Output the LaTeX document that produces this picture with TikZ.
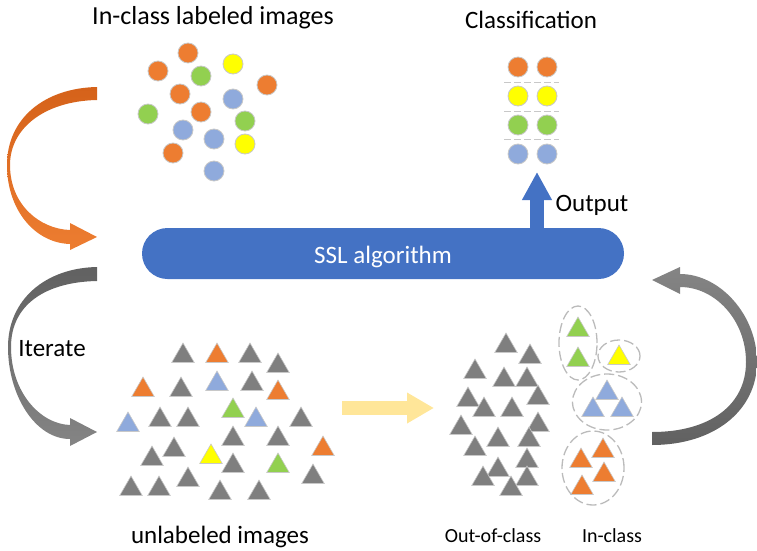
\documentclass[tikz,border=0pt]{standalone}
\usepackage{fontspec}
\setmainfont{Carlito}
\usetikzlibrary{arrows.meta}
\usetikzlibrary{shapes.geometric}
\usetikzlibrary{calc}

\definecolor{corange}{HTML}{ED7D31}
\definecolor{cdorange}{HTML}{D5621A}
\definecolor{cyellow}{HTML}{FFFF00}
\definecolor{cgreen}{HTML}{92D050}
\definecolor{cblue}{HTML}{8FAADC}
\definecolor{cgray}{HTML}{7F7F7F}
\definecolor{sslblue}{HTML}{4472C4}
\definecolor{pale}{HTML}{FFE699}
\definecolor{rim}{HTML}{C8C8C8}
\definecolor{dashrim}{HTML}{BBBBBB}

\begin{document}
\begin{tikzpicture}[x=1pt,y=-1pt,
    lbl/.style={font=\fontsize{25}{30}\selectfont,inner sep=0pt,anchor=base},
    small/.style={font=\fontsize{20}{24}\selectfont,inner sep=0pt,anchor=base},
    dot/.style={circle,minimum size=20pt,inner sep=0pt,draw=rim,line width=0.8pt},
    tri/.style={regular polygon,regular polygon sides=3,minimum size=26pt,
      inner sep=0pt,draw=rim,line width=0.6pt,yshift=-3pt},
    group/.style={ellipse,draw=dashrim,line width=1.3pt,dash pattern=on 10pt off 4pt}]
  \useasboundingbox (0,0) rectangle (757,551);

  % titles
  \node [lbl,font=\fontsize{26}{30}\selectfont] (t_in) at (213,25) {In-class labeled images};
  \node [lbl] (t_cls)   at (531,29)  {Classification};
  \node [lbl] (t_iter)  at (52,356)  {Iterate};
  \node [lbl] (t_unl)   at (220,543) {unlabeled images};
  \node [small] (t_out) at (493,542) {Out-of-class};
  \node [small] (t_inc) at (612,542) {In-class};

  % labeled images
  \foreach \x/\y/\c [count=\i] in {188/53/corange, 158/71/corange, 201/76/cgreen,
      233/64/cyellow, 267/85/corange, 180/94/corange, 233/99/cblue, 148/114/cgreen,
      201/112/corange, 245/121/cgreen, 183/130/cblue, 214/139/cblue,
      245/144/cyellow, 173/153/corange, 214/171/cblue}
    \node [dot,fill=\c] (lab\i) at (\x,\y) {};

  % classification
  \foreach \c [count=\i] in {corange,cyellow,cgreen,cblue} {
    \node [dot,fill=\c] (cl\i a) at (518,38+29*\i) {};
    \node [dot,fill=\c] (cl\i b) at (547,38+29*\i) {};
  }
  \foreach \y in {82,111,139}
    \draw [rim,line width=1pt,dash pattern=on 7pt off 3pt] (504,\y) -- (559,\y);

  % SSL bar and output
  \node [fill=sslblue,rounded corners=25.5pt,minimum width=482pt,minimum height=51pt,
    text=white,font=\fontsize{25}{30}\selectfont] (ssl) at (383,253.5) {};
  \node [lbl,text=white] (t_ssl) at (383,263) {SSL algorithm};
  \coordinate (out) at (537,172);
  \draw [sslblue,line width=14pt,-{Triangle[width=28pt,length=28pt]}]
    (ssl.north -| out) -- (out);
  \node [lbl] (t_output) at (592,211) {Output};

  % unlabeled images
  \foreach \x/\y/\c [count=\i] in {183/353/cgray, 217/353/corange, 250/353/cgray,
      278/363/cgray, 143/387/corange, 181/387/cgray, 217/381/cblue, 252/381/cgray,
      278/390/corange, 233/408/cgreen, 128/422/cblue, 160/417/cgray, 188/417/cgray,
      256/417/cblue, 301/417/cgray, 233/436/cgray, 278/436/cgray, 323/446/corange,
      174/447/cgray, 152/456/cgray, 211/454/cyellow, 233/463/cgray, 278/463/cgreen,
      313/474/cgray, 188/477/cgray, 131/486/cgray, 159/486/cgray, 220/490/cgray,
      259/490/cgray}
    \node [tri,fill=\c] (u\i) at (\x,\y) {};

  % separated images
  \foreach \x/\y [count=\i] in {506/343, 530/354, 475/369, 504/377, 527/377,
      538/395, 468/397, 484/407, 512/407, 461/425, 538/422, 498/437, 529/437,
      475/446, 527/458, 498/467, 483/476, 527/476, 511/486}
    \node [tri,fill=cgray] (o\i) at (\x,\y) {};
  \foreach \x/\y/\c [count=\i] in {578/327/cgreen, 578/357/cgreen, 619/355/cyellow,
      607/390/cblue, 593/407/cblue, 622/407/cblue, 603/448/corange, 581/458/corange,
      604/472/corange, 582/485/corange}
    \node [tri,fill=\c] (s\i) at (\x,\y) {};
  \node [group,minimum width=38pt,minimum height=74pt] (g_green)  at (578,343) {};
  \node [group,minimum width=42pt,minimum height=32pt] (g_yellow) at (619,356) {};
  \node [group,minimum width=69pt,minimum height=56pt] (g_blue)   at (607,402) {};
  \node [group,minimum width=62pt,minimum height=74pt] (g_orange) at (593,468) {};

  % filter arrow
  \coordinate (f_a) at (342,408);
  \coordinate (f_b) at (434,408);
  \draw [pale,line width=14pt,-{Triangle[width=29pt,length=27pt]}] (f_a) -- (f_b);

  % curved arrows
  \shade [top color=cdorange,bottom color=corange]
    (97,87) .. controls (45,88) and (7,118) .. (7,165)
    .. controls (7,210) and (35,243) .. (70,244) -- (70,250) -- (97,237)
    -- (70,223) -- (70,230) .. controls (40,229) and (10,205) .. (10,165)
    .. controls (10,128) and (45,101) .. (97,100) -- cycle;
  \shade [top color=black!62,bottom color=black!48]
    (97,267) .. controls (45,268) and (8,300) .. (8,347)
    .. controls (8,395) and (35,439) .. (70,439) -- (70,446) -- (97,432)
    -- (70,418) -- (70,425) .. controls (40,424) and (11,392) .. (11,347)
    .. controls (11,305) and (45,282) .. (97,281) -- cycle;
  \shade [top color=black!48,bottom color=black!62]
    (652,445) .. controls (715,445) and (757,410) .. (757,362)
    .. controls (757,315) and (720,274) .. (680,274) -- (680,267) -- (652,280)
    -- (680,294) -- (680,287) .. controls (715,287) and (746,320) .. (746,362)
    .. controls (746,405) and (710,432) .. (652,432) -- cycle;
\end{tikzpicture}
\end{document}
